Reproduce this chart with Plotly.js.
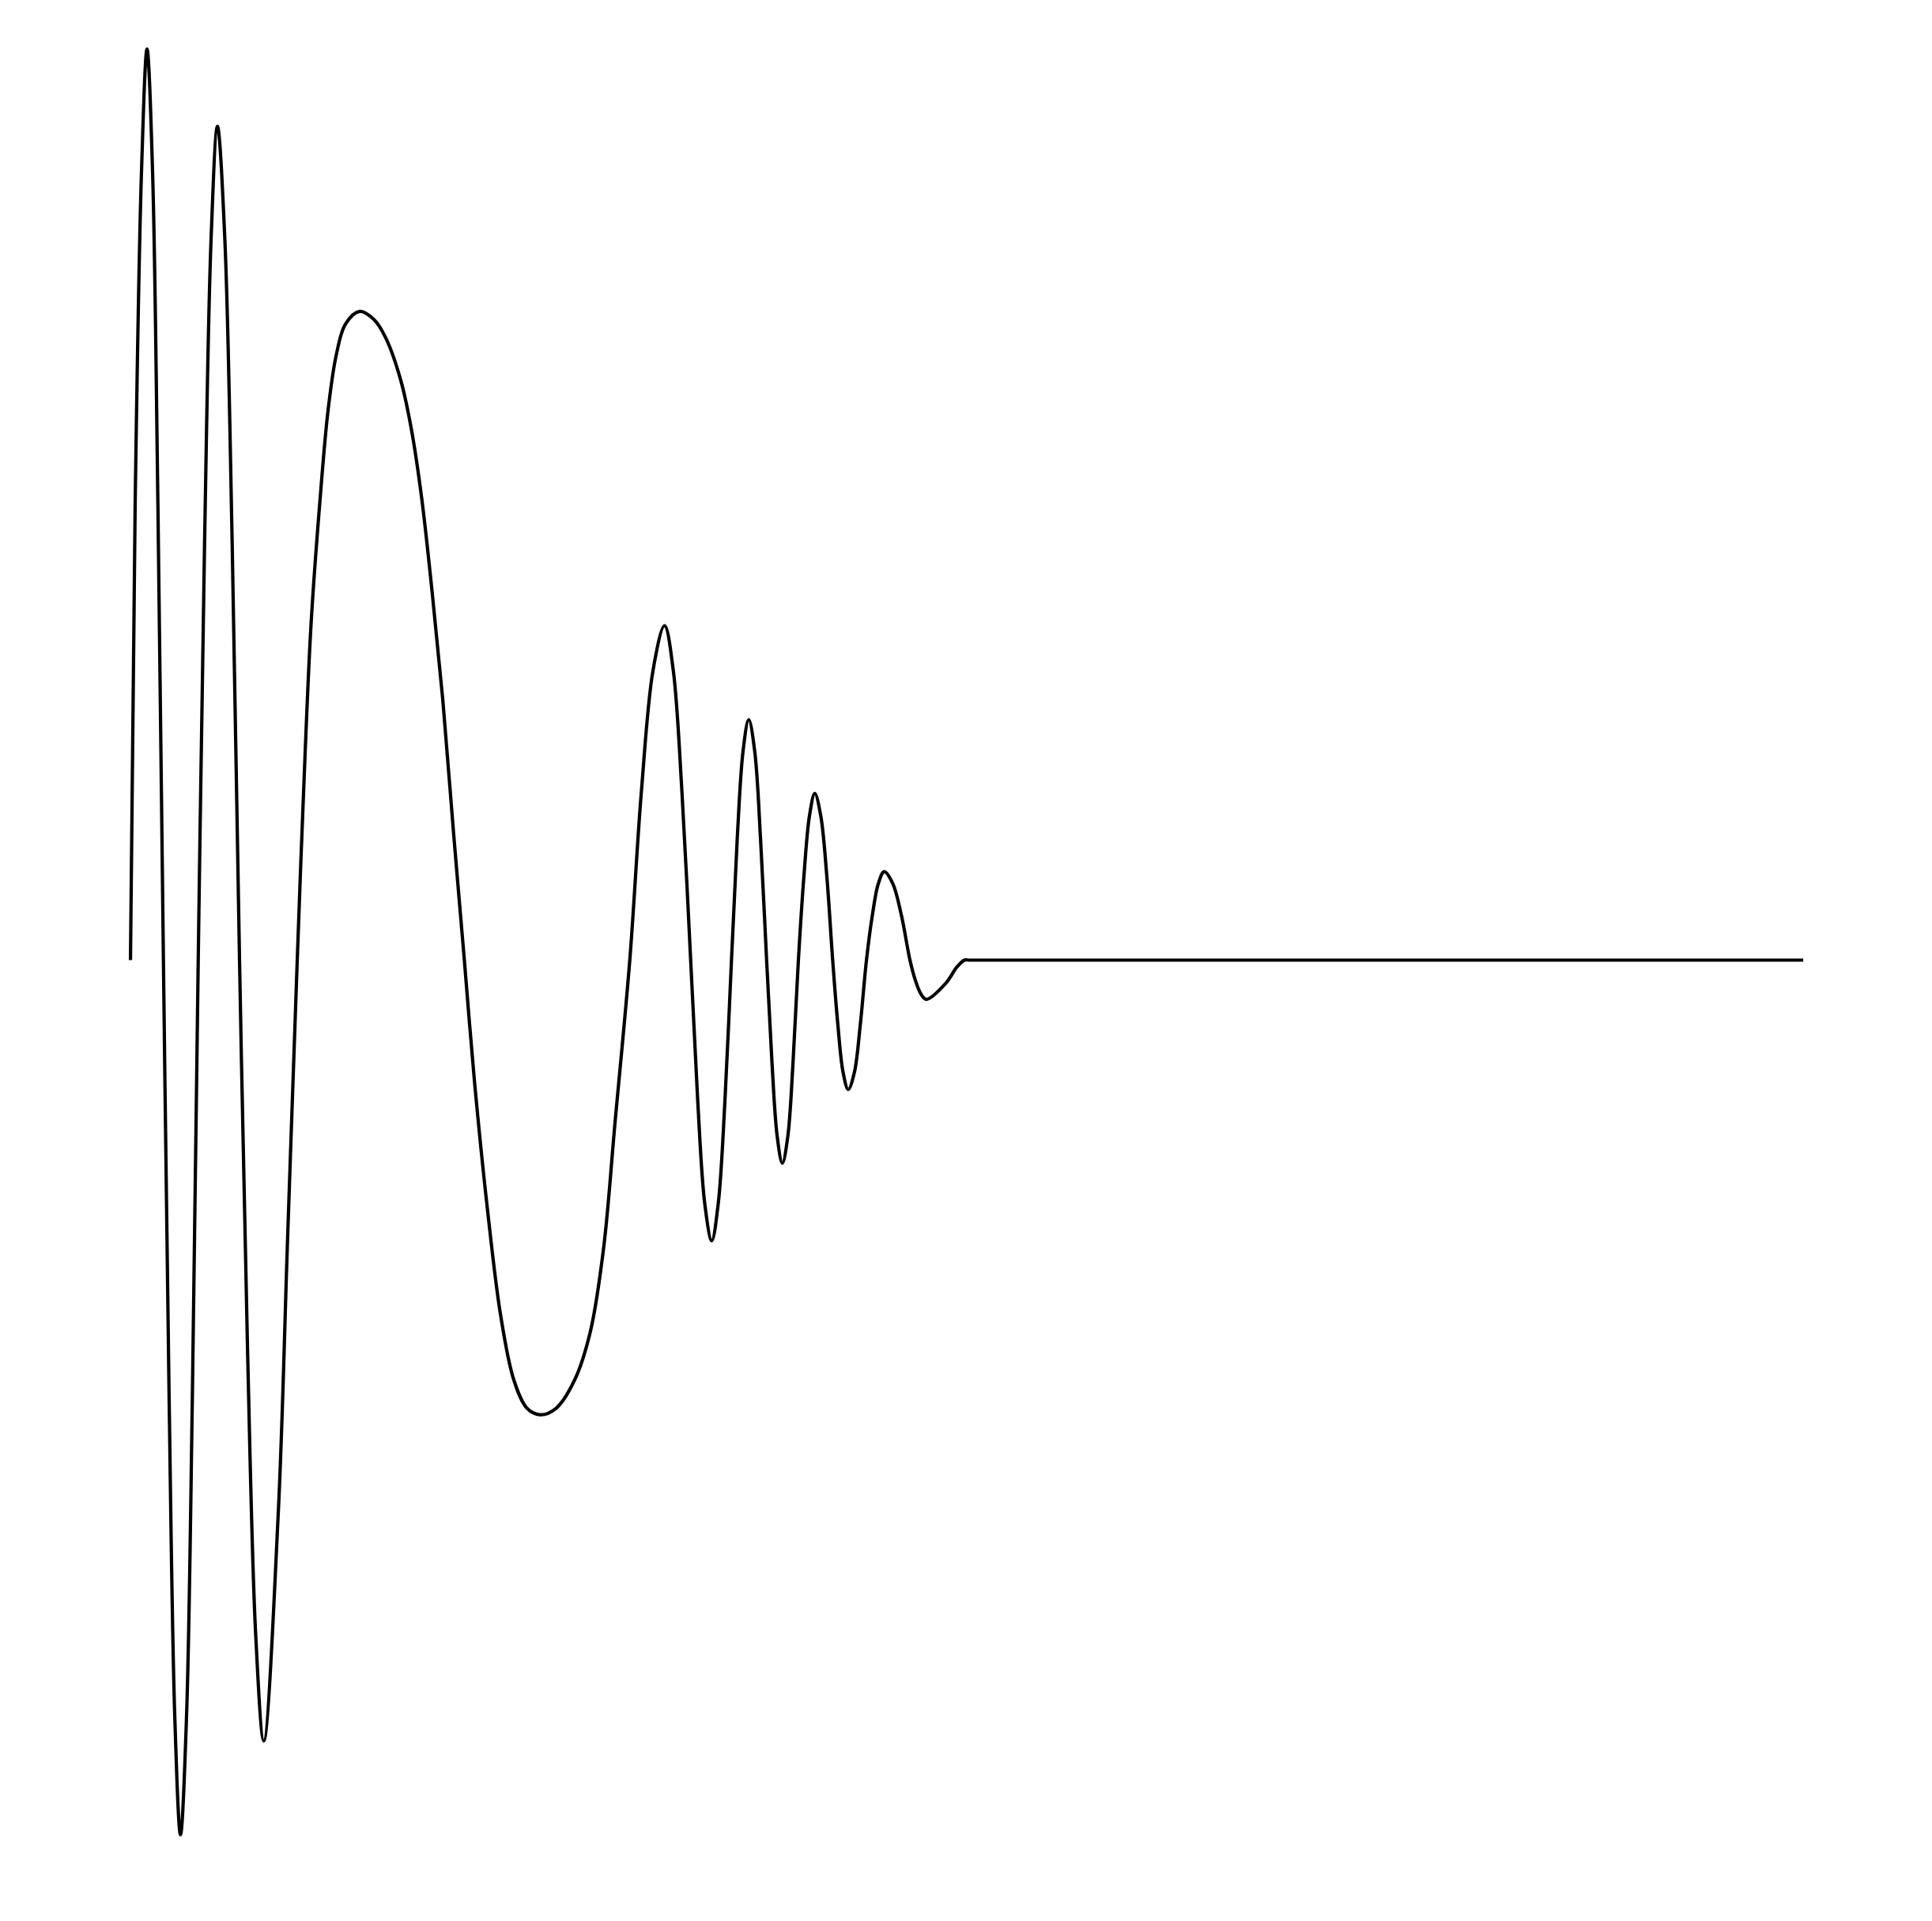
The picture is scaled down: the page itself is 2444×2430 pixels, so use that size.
<!DOCTYPE html>
<html>
<head>
<meta charset="utf-8">
<script src="https://cdn.plot.ly/plotly-3.0.1.min.js"></script>
<style>
    html, body { margin: 0; padding: 0; background: #ffffff; }
    #plot { width: 2444px; height: 2430px; }
</style>
</head>
<body>
<div id="plot"></div>
<script>
// waveform: time (0..100) and amplitude (first peak = 1)
const time = [
    0, 0.28, 0.66, 0.99, 1.32, 1.64, 1.97,
    2.31, 2.65, 2.99, 3.35, 3.70, 4.05,
    4.43, 4.82, 5.20, 5.64, 6.08, 6.52,
    7.00, 7.49, 7.97, 8.84, 9.40, 9.97,
    10.32, 10.79, 11.34, 11.81, 12.29, 12.85, 13.71, 14.56,
    15.26, 16.15, 16.78, 17.41, 18.04, 18.67, 19.30, 19.96,
    20.56, 21.35, 22.13, 22.92, 23.71, 24.49, 25.44, 26.55,
    27.49, 28.28, 28.97, 29.85,
    30.54, 31.24, 31.93, 32.45, 32.97, 33.49,
    33.91, 34.33, 34.75, 35.14, 35.54, 35.93,
    36.27, 36.62, 36.96, 37.32, 37.67, 38.03,
    38.35, 38.66, 38.97, 39.30, 39.61, 39.93,
    40.26, 40.59, 40.91, 41.27, 41.63, 41.98,
    42.29, 42.60, 42.91, 43.28, 43.63, 44.00,
    44.35, 44.71, 45.06, 45.57, 46.09, 46.60,
    46.92, 47.25, 47.58, 48.76, 49.39, 49.86,
    50.14, 53.64, 100
];

const amplitude = [
    0, 0.500, 0.866, 1.000, 0.866, 0.500, 0,
    -0.480, -0.831, -0.960, -0.831, -0.480, 0,
    0.458, 0.792, 0.915, 0.792, 0.458, 0,
    -0.429, -0.742, -0.857, -0.605, -0.302, 0,
    0.171, 0.367, 0.507, 0.603, 0.663, 0.698, 0.712, 0.703,
    0.683, 0.637, 0.584, 0.507, 0.403, 0.286, 0.143, 0,
    -0.132, -0.275, -0.390, -0.461, -0.492, -0.499, -0.492, -0.461,
    -0.408, -0.317, -0.178, 0,
    0.184, 0.318, 0.367, 0.318, 0.184, 0,
    -0.154, -0.267, -0.308, -0.267, -0.154, 0,
    0.132, 0.229, 0.264, 0.229, 0.132, 0,
    -0.112, -0.193, -0.223, -0.193, -0.112, 0,
    0.092, 0.158, 0.183, 0.158, 0.092, 0,
    -0.071, -0.123, -0.142, -0.123, -0.071, 0,
    0.049, 0.084, 0.097, 0.084, 0.049, 0,
    -0.022, -0.037, -0.043, -0.025, -0.008, 0,
    0, 0, 0
];

const trace = {
    type: "scatter",
    mode: "lines",
    x: time,
    y: amplitude,
    line: {
        color: "#000000",
        width: 4.2,
        shape: "spline",
        smoothing: 1,
        simplify: false
    },
    hoverinfo: "skip"
};

const layout = {
    width: 2444,
    height: 2430,
    margin: {l: 0, r: 0, t: 0, b: 0},
    paper_bgcolor: "#ffffff",
    plot_bgcolor: "#ffffff",
    showlegend: false,
    xaxis: {
        visible: false,
        range: [-7.80, 107.70]
    },
    yaxis: {
        visible: false,
        range: [-1.0547, 1.0538]
    }
};

Plotly.newPlot("plot", [trace], layout, {displayModeBar: false, staticPlot: true});
</script>
</body>
</html>
